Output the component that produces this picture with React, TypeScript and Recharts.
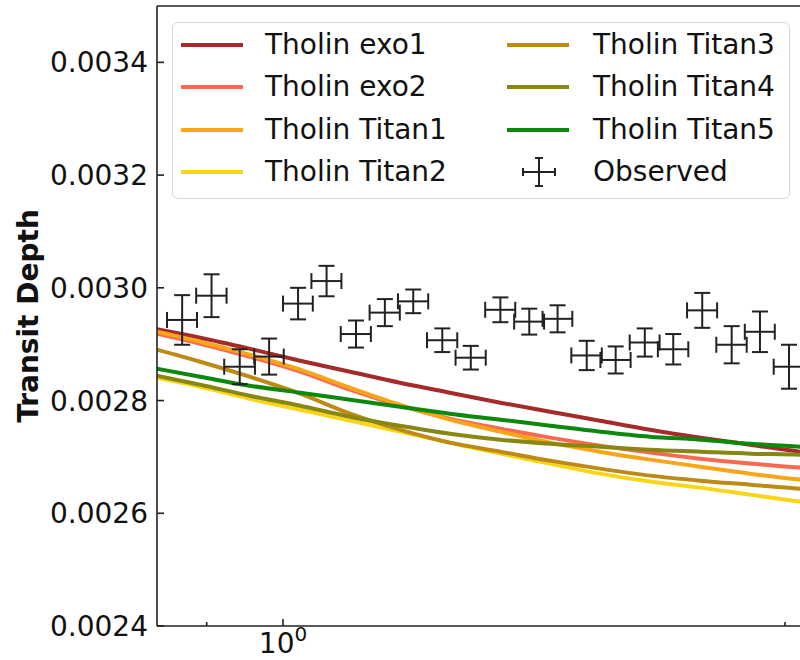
import React from 'react';
import { ComposedChart, Line, Scatter, ErrorBar, XAxis, YAxis, ReferenceLine } from 'recharts';

const FONT = '"DejaVu Sans", "Liberation Sans", sans-serif';

// model curves, sampled on a wavelength grid (micron)
const modelWavelength = [0.84, 0.892, 0.955, 1.024, 1.097, 1.175, 1.259, 1.35, 1.446, 1.549, 1.66, 1.779, 1.906, 2.042, 2.099];

const tholinExo1 = [0.0029265, 0.0029114, 0.0028919, 0.0028707, 0.0028512, 0.0028317, 0.0028139, 0.0027962, 0.0027802, 0.0027643, 0.0027483, 0.0027342, 0.0027217, 0.0027093, 0.0027058];
const tholinExo2 = [0.0029185, 0.0029008, 0.0028777, 0.0028512, 0.0028192, 0.0027909, 0.0027678, 0.0027501, 0.0027342, 0.00272, 0.0027076, 0.0026969, 0.0026881, 0.002681, 0.0026774];
const tholinTitan1 = [0.0029221, 0.0029043, 0.0028813, 0.0028547, 0.0028228, 0.0027926, 0.0027661, 0.0027448, 0.0027253, 0.0027093, 0.0026952, 0.0026827, 0.0026703, 0.0026597, 0.0026562];
const tholinTitan2 = [0.0028405, 0.0028246, 0.0028033, 0.0027838, 0.0027643, 0.0027448, 0.0027253, 0.0027058, 0.0026881, 0.0026703, 0.0026562, 0.0026455, 0.0026331, 0.0026207, 0.0026172];
const tholinTitan3 = [0.0028902, 0.0028689, 0.0028423, 0.0028122, 0.0027767, 0.0027483, 0.0027253, 0.0027093, 0.0026934, 0.0026792, 0.0026668, 0.0026579, 0.0026508, 0.0026437, 0.002642];
const tholinTitan4 = [0.0028441, 0.0028281, 0.0028086, 0.0027909, 0.0027714, 0.0027554, 0.0027412, 0.0027306, 0.0027235, 0.0027182, 0.0027129, 0.0027093, 0.0027058, 0.002704, 0.0027022];
const tholinTitan5 = [0.0028565, 0.0028423, 0.0028263, 0.0028139, 0.0028015, 0.0027891, 0.0027767, 0.0027661, 0.0027554, 0.0027448, 0.0027359, 0.0027306, 0.0027235, 0.0027182, 0.0027164];

// observed spectrum
const obsWavelength = [0.87, 0.906, 0.942, 0.981, 1.021, 1.062, 1.106, 1.151, 1.197, 1.246, 1.296, 1.35, 1.405, 1.461, 1.521, 1.583, 1.648, 1.714, 1.784, 1.858, 1.932, 2.011];
const obsWavelengthErr = [0.018, 0.019, 0.02, 0.02, 0.021, 0.022, 0.023, 0.024, 0.025, 0.026, 0.027, 0.028, 0.029, 0.03, 0.032, 0.033, 0.034, 0.036, 0.037, 0.039, 0.04, 0.042];
const obsDepth = [0.002943, 0.002986, 0.00286, 0.002878, 0.002972, 0.003012, 0.002918, 0.002956, 0.002976, 0.002907, 0.002876, 0.002961, 0.00294, 0.002945, 0.00288, 0.002872, 0.002903, 0.002891, 0.00296, 0.002899, 0.002922, 0.00286];
const obsDepthErr = [0.000044, 0.000038, 0.000031, 0.000032, 0.000028, 0.000027, 0.000024, 0.000024, 0.000021, 0.000021, 0.000021, 0.000022, 0.000023, 0.000024, 0.000026, 0.000024, 0.000025, 0.000027, 0.000031, 0.000033, 0.000036, 0.000039];

const yTicks = [0.0024, 0.0026, 0.0028, 0.003, 0.0032, 0.0034];
const xTicks = [0.9, 1, 2];

const series = [
  { key: 'exo1', name: 'Tholin exo1', color: '#a52a2a', values: tholinExo1 },
  { key: 'exo2', name: 'Tholin exo2', color: '#f86a50', values: tholinExo2 },
  { key: 'titan1', name: 'Tholin Titan1', color: '#f9a51a', values: tholinTitan1 },
  { key: 'titan2', name: 'Tholin Titan2', color: '#f8d617', values: tholinTitan2 },
  { key: 'titan3', name: 'Tholin Titan3', color: '#bd8a16', values: tholinTitan3 },
  { key: 'titan4', name: 'Tholin Titan4', color: '#878712', values: tholinTitan4 },
  { key: 'titan5', name: 'Tholin Titan5', color: '#0c880c', values: tholinTitan5 },
];

const modelData = modelWavelength.map((x, i) => {
  const row: Record<string, number> = { x };
  series.forEach(s => { row[s.key] = s.values[i]; });
  return row;
});

const obsData = obsWavelength.map((x, i) => ({
  x,
  y: obsDepth[i],
  xErr: obsWavelengthErr[i],
  yErr: obsDepthErr[i],
}));

const YTick = (props: any) => {
  const { x, y, payload } = props;
  return (
    <g>
      <line x1={x} x2={x + 7} y1={y} y2={y} stroke="#222" strokeWidth={1.6} />
      <text x={x - 9} y={y} dy="0.36em" textAnchor="end" fontSize={28} fontFamily={FONT} fill="#111">
        {payload.value.toFixed(4)}
      </text>
    </g>
  );
};

const XTick = (props: any) => {
  const { x, y, payload } = props;
  const major = payload.value === 1;
  return (
    <g>
      <line x1={x} x2={x} y1={y} y2={y - (major ? 7 : 4)} stroke="#222" strokeWidth={1.6} />
      {major && (
        <text x={x} y={y + 27} textAnchor="middle" fontSize={28} fontFamily={FONT} fill="#111">
          <tspan>10</tspan>
          <tspan dy={-12} fontSize={20}>0</tspan>
        </text>
      )}
    </g>
  );
};

const YLabel = (props: any) => {
  const vb = props.viewBox || { x: 8, y: 6, width: 149, height: 620 };
  const cx = vb.x + 20;
  const cy = vb.y + vb.height / 2;
  return (
    <text
      x={cx}
      y={cy}
      transform={`rotate(-90, ${cx}, ${cy})`}
      textAnchor="middle"
      dominantBaseline="central"
      fontSize={28}
      fontWeight="bold"
      fontFamily={FONT}
      fill="#111"
    >
      Transit Depth
    </text>
  );
};

const NoMarker = () => <g />;

const Legend = () => {
  const rowY = [23, 65.5, 108, 150];
  const items = [...series.map(s => ({ name: s.name, color: s.color })), { name: 'Observed', color: '' }];
  return (
    <div
      style={{
        position: 'absolute', left: 172, top: 22, width: 618, height: 177,
        border: '1.5px solid #d6d6d6', borderRadius: 6, boxSizing: 'border-box',
        background: 'rgba(255,255,255,0.85)', fontFamily: FONT, fontSize: 28, color: '#111',
      }}
    >
      {items.map((it, i) => {
        const col = i < 4 ? 0 : 1;
        const row = i % 4;
        const handleLeft = col === 0 ? 8 : 334;
        const textLeft = col === 0 ? 92 : 420;
        const cy = rowY[row] - 1.5;
        return (
          <React.Fragment key={it.name}>
            {it.color ? (
              <div style={{ position: 'absolute', left: handleLeft, top: cy - 2, width: 62, height: 4, background: it.color }} />
            ) : (
              <svg style={{ position: 'absolute', left: handleLeft + 14, top: cy - 16 }} width={36} height={32}>
                <line x1={2} x2={34} y1={16} y2={16} stroke="#222" strokeWidth={2} />
                <line x1={18} x2={18} y1={2} y2={30} stroke="#222" strokeWidth={2} />
                <line x1={2} x2={2} y1={12} y2={20} stroke="#222" strokeWidth={2} />
                <line x1={34} x2={34} y1={12} y2={20} stroke="#222" strokeWidth={2} />
                <line x1={14} x2={22} y1={2} y2={2} stroke="#222" strokeWidth={2} />
                <line x1={14} x2={22} y1={30} y2={30} stroke="#222" strokeWidth={2} />
              </svg>
            )}
            <div style={{ position: 'absolute', left: textLeft, top: cy - 20, height: 40, lineHeight: '40px', whiteSpace: 'nowrap' }}>
              {it.name}
            </div>
          </React.Fragment>
        );
      })}
    </div>
  );
};

export default function App() {
  return (
    <div style={{ position: 'absolute', left: 0, top: 0, width: 800, height: 660, overflow: 'hidden', background: '#fff' }}>
      <ComposedChart width={830} height={660} data={modelData} margin={{ top: 6, right: 10, bottom: 0, left: 8 }}>
        <XAxis
          dataKey="x"
          type="number"
          scale="log"
          domain={[0.8403, 2.099]}
          allowDataOverflow
          ticks={xTicks}
          tick={<XTick />}
          tickLine={false}
          tickSize={0}
          tickMargin={0}
          height={34}
          axisLine={{ stroke: '#222', strokeWidth: 1.6 }}
          interval={0}
        />
        <YAxis
          type="number"
          domain={[0.0024, 0.0035]}
          allowDataOverflow
          ticks={yTicks}
          tick={<YTick />}
          tickLine={false}
          tickSize={0}
          tickMargin={0}
          width={149}
          axisLine={{ stroke: '#222', strokeWidth: 1.6 }}
          interval={0}
          label={<YLabel />}
        />
        <ReferenceLine y={0.0035} stroke="#222" strokeWidth={1.6} />
        {series.map(s => (
          <Line
            key={s.key}
            type="monotone"
            dataKey={s.key}
            stroke={s.color}
            strokeWidth={4}
            dot={false}
            activeDot={false}
            isAnimationActive={false}
          />
        ))}
        <Scatter data={obsData} dataKey="y" shape={<NoMarker />} isAnimationActive={false}>
          <ErrorBar dataKey="yErr" direction="y" width={8} stroke="#222" strokeWidth={2} isAnimationActive={false} />
          <ErrorBar dataKey="xErr" direction="x" width={8} stroke="#222" strokeWidth={2} isAnimationActive={false} />
        </Scatter>
      </ComposedChart>
      <Legend />
    </div>
  );
}
